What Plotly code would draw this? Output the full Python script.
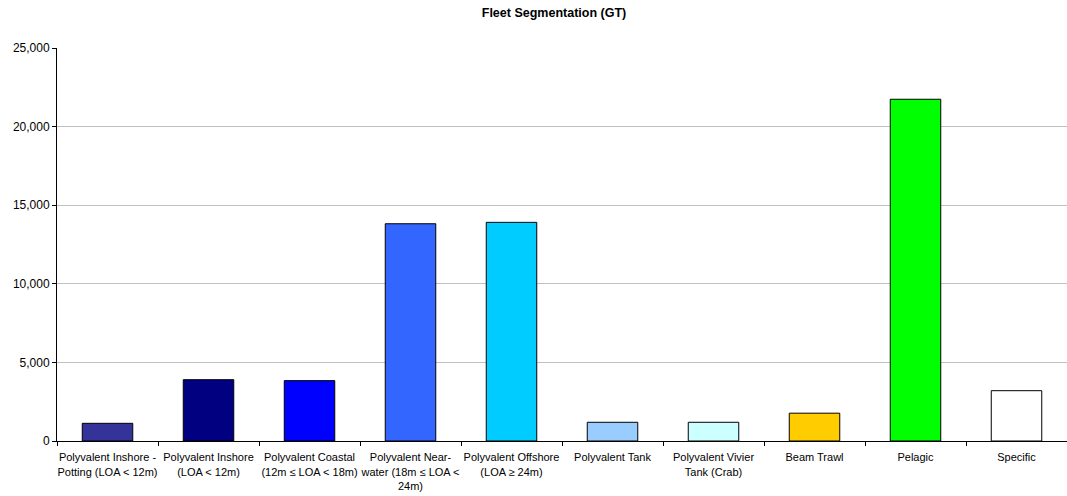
import plotly.graph_objects as go

categories = [
    "Polyvalent Inshore -<br>Potting (LOA &lt; 12m)",
    "Polyvalent Inshore<br>(LOA &lt; 12m)",
    "Polyvalent Coastal<br>(12m ≤ LOA &lt; 18m)",
    "Polyvalent Near-<br>water (18m ≤ LOA &lt;<br>24m)",
    "Polyvalent Offshore<br>(LOA ≥ 24m)",
    "Polyvalent Tank",
    "Polyvalent Vivier<br>Tank (Crab)",
    "Beam Trawl",
    "Pelagic",
    "Specific",
]
values = [1125, 3900, 3840, 13820, 13910, 1190, 1190, 1770, 21740, 3200]
colors = ["#333399", "#000080", "#0000FF", "#3366FF", "#00CCFF",
          "#99CCFF", "#CCFFFF", "#FFCC00", "#00FF00", "#FFFFFF"]
y_ticks = [0, 5000, 10000, 15000, 20000, 25000]

W, H = 1067, 496

fig = go.Figure(go.Bar(
    x=categories, y=values,
    marker=dict(color=colors, line=dict(color="#000000", width=1)),
    width=0.5,
))

fig.update_layout(
    width=W, height=H,
    margin=dict(l=57, r=0, t=48, b=55),
    paper_bgcolor="white", plot_bgcolor="white",
    showlegend=False,
    font=dict(family="Liberation Sans, Arial, sans-serif", size=10, color="#000000"),
    title=dict(text="<b>Fleet Segmentation (GT)</b>", x=554/W, xanchor="center",
               y=1 - 13/H, yanchor="middle", font=dict(size=12.5)),
)
fig.update_xaxes(
    showline=True, linecolor="#000000", linewidth=1,
    ticks="outside", tickson="boundaries", ticklen=4, tickcolor="#000000",
    showgrid=False, tickangle=0, tickfont=dict(size=11),
    ticklabelstandoff=6,
    range=[-0.5, 9.5],
)
fig.update_yaxes(
    range=[0, 25000], tickvals=y_ticks, tickformat=",d",
    showline=True, linecolor="#000000", linewidth=1,
    ticks="outside", ticklen=4, tickcolor="#000000",
    showgrid=True, gridcolor="#C0C0C0", gridwidth=1,
    zeroline=False, tickfont=dict(size=12),
)

fig.write_html(
    "out.html",
    config={"displayModeBar": False},
    post_script="document.body.style.margin='0';document.body.style.overflow='hidden';",
)
